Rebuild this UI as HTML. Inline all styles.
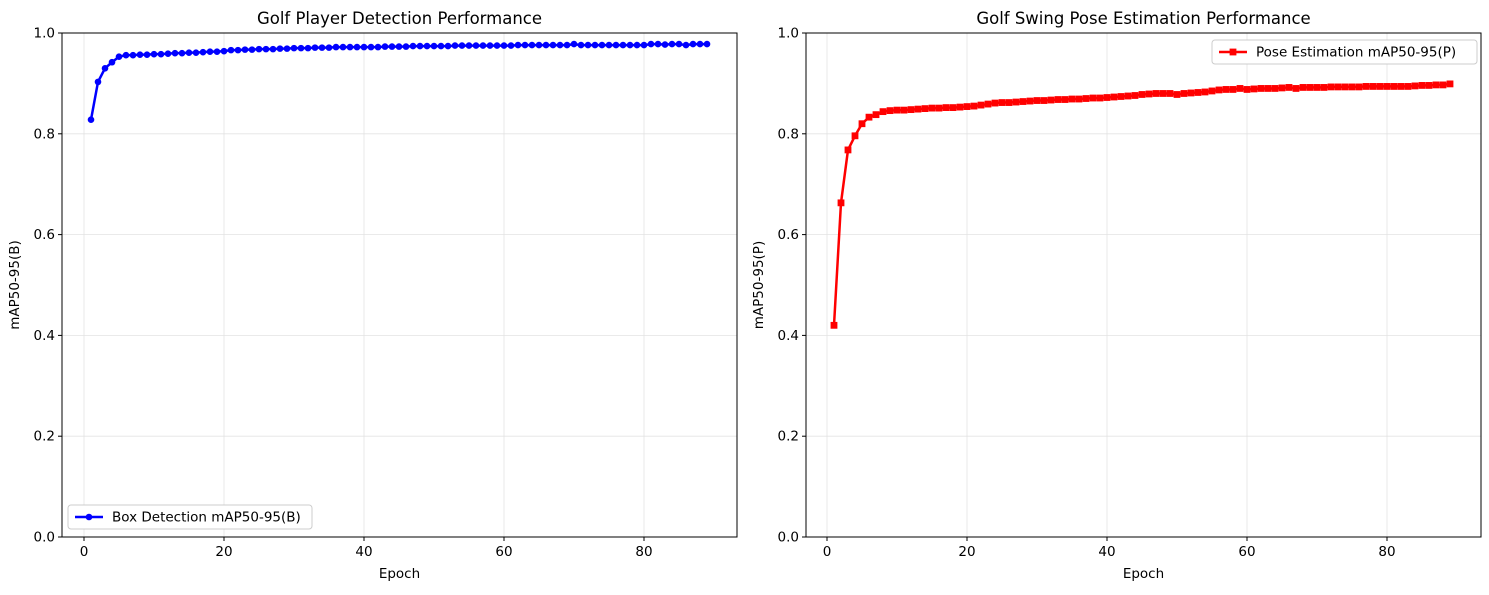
<!DOCTYPE html>
<html><head><meta charset="utf-8"><style>
body{margin:0;background:#fff;font-family:"Liberation Sans","DejaVu Sans",sans-serif}
svg text{font-family:"DejaVu Sans","Liberation Sans",sans-serif;fill:#000}
</style></head><body>
<svg id="c" width="1489" height="590" xmlns="http://www.w3.org/2000/svg"></svg>
<script>
const epochs=[];for(let i=1;i<=89;i++)epochs.push(i);
const boxMap=[0.828,0.903,0.930,0.942,0.953,0.956,0.956,0.957,0.957,0.958,0.958,0.959,0.960,0.960,0.961,0.961,0.962,0.963,0.963,0.964,0.966,0.966,0.967,0.967,0.968,0.968,0.968,0.969,0.969,0.970,0.970,0.970,0.971,0.971,0.971,0.972,0.972,0.972,0.972,0.972,0.972,0.972,0.973,0.973,0.973,0.973,0.974,0.974,0.974,0.974,0.974,0.974,0.975,0.975,0.975,0.975,0.975,0.975,0.975,0.975,0.975,0.976,0.976,0.976,0.976,0.976,0.976,0.976,0.976,0.978,0.976,0.976,0.976,0.976,0.976,0.976,0.976,0.976,0.976,0.976,0.978,0.978,0.977,0.978,0.978,0.976,0.978,0.978,0.978];
const poseMap=[0.420,0.663,0.768,0.796,0.820,0.833,0.838,0.844,0.846,0.847,0.847,0.848,0.849,0.850,0.851,0.851,0.852,0.852,0.853,0.854,0.855,0.857,0.859,0.861,0.862,0.862,0.863,0.864,0.865,0.866,0.866,0.867,0.868,0.868,0.869,0.869,0.870,0.871,0.871,0.872,0.873,0.874,0.875,0.876,0.878,0.879,0.880,0.880,0.880,0.878,0.880,0.881,0.882,0.883,0.885,0.887,0.888,0.888,0.890,0.888,0.889,0.890,0.890,0.890,0.891,0.892,0.890,0.892,0.892,0.892,0.892,0.893,0.893,0.893,0.893,0.893,0.894,0.894,0.894,0.894,0.894,0.894,0.894,0.895,0.896,0.896,0.897,0.897,0.899];
const yTicks=[0,0.2,0.4,0.6,0.8,1.0];
const xTicks=[0,20,40,60,80];
const NS="http://www.w3.org/2000/svg";
const svg=document.getElementById('c');
function mk(t,a,p){const e=document.createElementNS(NS,t);for(const k in a)e.setAttribute(k,a[k]);(p||svg).appendChild(e);return e;}
function panel(cfg){
 const L=cfg.left,R=cfg.left+675,T=33,B=537;
 const xs=v=>cfg.x0+v*7, ys=v=>B-v*(B-T);
 const g=mk('g',{});
 
 
 yTicks.forEach(v=>{mk('line',{x1:L,x2:R,y1:ys(v),y2:ys(v),stroke:'#e3e3e3','stroke-width':0.8},g);});
 xTicks.forEach(v=>{mk('line',{x1:xs(v),x2:xs(v),y1:T,y2:B,stroke:'#e3e3e3','stroke-width':0.8},g);});
 yTicks.forEach(v=>{mk('line',{x1:L-4,x2:L,y1:ys(v),y2:ys(v),stroke:'#000'},g);
  const t=mk('text',{x:L-7,y:ys(v)+4.5,'text-anchor':'end','font-size':13.5},g);t.textContent=v.toFixed(1);
  });
 xTicks.forEach(v=>{mk('line',{x1:xs(v),x2:xs(v),y1:B,y2:B+4,stroke:'#000'},g);
  const t=mk('text',{x:xs(v),y:B+19,'text-anchor':'middle','font-size':13.5},g);t.textContent=v;
  });
 const pts=cfg.data.map((v,i)=>xs(epochs[i])+','+ys(v)).join(' ');
 const pl=mk('polyline',{points:pts,fill:'none',stroke:cfg.color,'stroke-width':2.5},g);
 
 cfg.data.forEach((v,i)=>{let m;
  if(cfg.marker==='o')m=mk('circle',{cx:xs(epochs[i]),cy:ys(v),r:3.3,fill:cfg.color},g);
  else m=mk('rect',{x:xs(epochs[i])-3.4,y:ys(v)-3.4,width:6.8,height:6.8,fill:cfg.color},g);
  });
 mk('rect',{x:L,y:T,width:675,height:B-T,fill:'none',stroke:'#000','stroke-width':1},g);
 const ti=mk('text',{x:(L+R)/2,y:24,'text-anchor':'middle','font-size':16.5},g);ti.textContent=cfg.title;
 
 const xl=mk('text',{x:(L+R)/2,y:578,'text-anchor':'middle','font-size':13.5},g);xl.textContent='Epoch';
 
 const yl=mk('text',{x:0,y:0,'text-anchor':'middle','font-size':13.5,transform:`translate(${L-43},${(T+B)/2}) rotate(-90)`},g);yl.textContent=cfg.ylabel;
 
 const lg=mk('g',{},g);
 
 const lx=cfg.legend[0],ly=cfg.legend[1],lw=cfg.legend[2];
 mk('rect',{x:lx,y:ly,width:lw,height:24,rx:3,fill:'#fff',stroke:'#ccc'},lg);
 mk('line',{x1:lx+7,x2:lx+35,y1:ly+12,y2:ly+12,stroke:cfg.color,'stroke-width':2.5},lg);
 if(cfg.marker==='o')mk('circle',{cx:lx+21,cy:ly+12,r:3.3,fill:cfg.color},lg);
 else mk('rect',{x:lx+17.6,y:ly+8.6,width:6.8,height:6.8,fill:cfg.color},lg);
 const lt=mk('text',{x:lx+44,y:ly+16.5,'font-size':13.5},lg);lt.textContent=cfg.label;
}
panel({name:'detection-panel',left:62,x0:84,data:boxMap,color:'#0000ff',marker:'o',title:'Golf Player Detection Performance',ylabel:'mAP50-95(B)',label:'Box Detection mAP50-95(B)',legend:[68,505,244]});
panel({name:'pose-panel',left:806,x0:827,data:poseMap,color:'#ff0000',marker:'s',title:'Golf Swing Pose Estimation Performance',ylabel:'mAP50-95(P)',label:'Pose Estimation mAP50-95(P)',legend:[1212,40,265]});
</script>
</body></html>
